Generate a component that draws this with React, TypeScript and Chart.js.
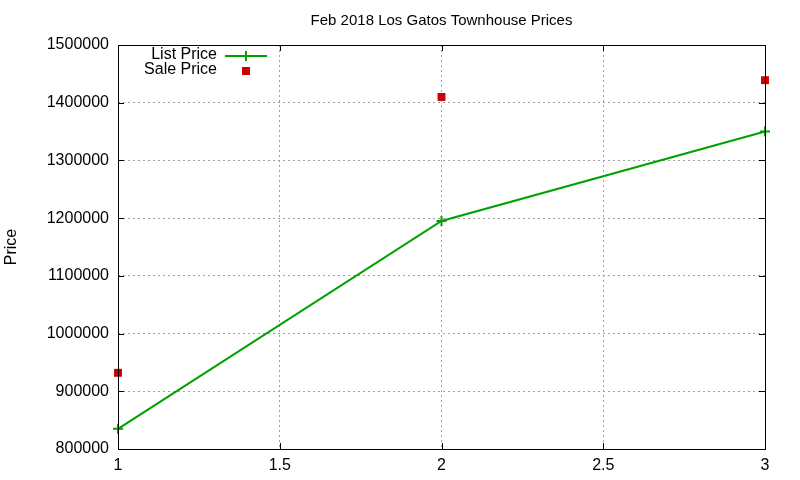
import { useEffect, useRef } from "react"
import { Chart, registerables } from "chart.js"

Chart.register(...registerables)

const titleText = "Feb 2018 Los Gatos Townhouse Prices"
const xValues = [1, 2, 3]
const listPrices = [835000, 1195000, 1350000]
const salePrices = [932000, 1410000, 1439000]
const xTickValues = [1, 1.5, 2, 2.5, 3]
const yTickValues = [800000, 900000, 1000000, 1100000, 1200000, 1300000, 1400000, 1500000]

const GREEN = "#00a000"
const RED = "#cc0000"
const FONT = "'Liberation Sans', Arial, sans-serif"

// gnuplot-ish frame, inward ticks, title and key
const gnuplotLook = {
  id: "gnuplotLook",
  afterDraw(chart: Chart) {
    const { ctx, chartArea } = chart
    const { left, right, top, bottom } = chartArea
    const xs = chart.scales.x
    const ys = chart.scales.y
    ctx.save()
    ctx.strokeStyle = "#000"
    ctx.lineWidth = 1
    ctx.beginPath()
    xTickValues.forEach((v) => {
      const px = Math.round(xs.getPixelForValue(v)) + 0.5
      ctx.moveTo(px, bottom)
      ctx.lineTo(px, bottom - 6)
      ctx.moveTo(px, top)
      ctx.lineTo(px, top + 6)
    })
    yTickValues.forEach((v) => {
      const py = Math.round(ys.getPixelForValue(v)) + 0.5
      ctx.moveTo(left, py)
      ctx.lineTo(left + 6, py)
      ctx.moveTo(right, py)
      ctx.lineTo(right - 6, py)
    })
    ctx.stroke()
    ctx.strokeRect(Math.round(left) + 0.5, Math.round(top) + 0.5, Math.round(right - left), Math.round(bottom - top))

    // title
    ctx.fillStyle = "#000"
    ctx.font = `15px ${FONT}`
    ctx.textAlign = "center"
    ctx.textBaseline = "middle"
    ctx.fillText(titleText, (left + right) / 2, 21)

    // key
    const ds = chart.data.datasets
    ctx.font = `16px ${FONT}`
    ctx.textAlign = "right"
    ctx.fillText(ds[0].label as string, 217, 55)
    ctx.fillText(ds[1].label as string, 217, 70)
    ctx.strokeStyle = GREEN
    ctx.lineWidth = 2
    ctx.beginPath()
    ctx.moveTo(225, 56)
    ctx.lineTo(267, 56)
    ctx.moveTo(246, 51)
    ctx.lineTo(246, 61)
    ctx.stroke()
    ctx.fillStyle = RED
    ctx.fillRect(242, 67, 8, 8)
    ctx.restore()
  },
}

export default function App() {
  const chartRef = useRef<HTMLCanvasElement>(null)
  const chartInstance = useRef<Chart | null>(null)

  useEffect(() => {
    document.body.style.margin = "0"
    if (!chartRef.current) return
    if (chartInstance.current) chartInstance.current.destroy()

    chartInstance.current = new Chart(chartRef.current, {
      type: "line",
      data: {
        datasets: [
          {
            label: "List Price",
            data: xValues.map((x, i) => ({ x, y: listPrices[i] })),
            borderColor: GREEN,
            backgroundColor: GREEN,
            borderWidth: 2,
            pointStyle: "cross",
            pointRadius: 5,
            pointBorderWidth: 2,
            pointBorderColor: GREEN,
            tension: 0,
            clip: false,
          },
          {
            label: "Sale Price",
            data: xValues.map((x, i) => ({ x, y: salePrices[i] })),
            showLine: false,
            pointStyle: "rect",
            pointRadius: 5.6,
            pointBorderWidth: 0,
            backgroundColor: RED,
            borderColor: RED,
            clip: false,
          },
        ],
      },
      options: {
        responsive: false,
        animation: false,
        devicePixelRatio: 1,
        layout: { padding: { top: 45, right: 35, left: 0, bottom: 0 } },
        plugins: {
          legend: { display: false },
          title: { display: false },
          tooltip: { enabled: false },
        },
        scales: {
          x: {
            type: "linear",
            min: 1,
            max: 3,
            afterFit: (scale) => {
              scale.height = 31
            },
            afterBuildTicks: (scale) => {
              scale.ticks = xTickValues.map((value) => ({ value }))
            },
            ticks: {
              color: "#000",
              padding: 7,
              font: { size: 16, family: FONT },
              callback: (v) => String(v),
            },
            grid: {
              color: "#a0a0a0",
              drawTicks: false,
              tickLength: 0,
            },
            border: { display: false, dash: [2, 3] },
          },
          y: {
            type: "linear",
            min: 800000,
            max: 1500000,
            afterFit: (scale) => {
              scale.width = 118
            },
            afterBuildTicks: (scale) => {
              scale.ticks = yTickValues.map((value) => ({ value }))
            },
            title: {
              display: true,
              text: "Price",
              color: "#000",
              font: { size: 16, family: FONT },
              padding: { top: 2, bottom: 0 },
            },
            ticks: {
              color: "#000",
              padding: 9,
              font: { size: 16, family: FONT },
              callback: (v) => String(v),
            },
            grid: {
              color: "#a0a0a0",
              drawTicks: false,
              tickLength: 0,
            },
            border: { display: false, dash: [2, 3] },
          },
        },
      },
      plugins: [gnuplotLook],
    })

    return () => {
      if (chartInstance.current) {
        chartInstance.current.destroy()
        chartInstance.current = null
      }
    }
  }, [])

  return <canvas ref={chartRef} width={800} height={480}></canvas>
}
